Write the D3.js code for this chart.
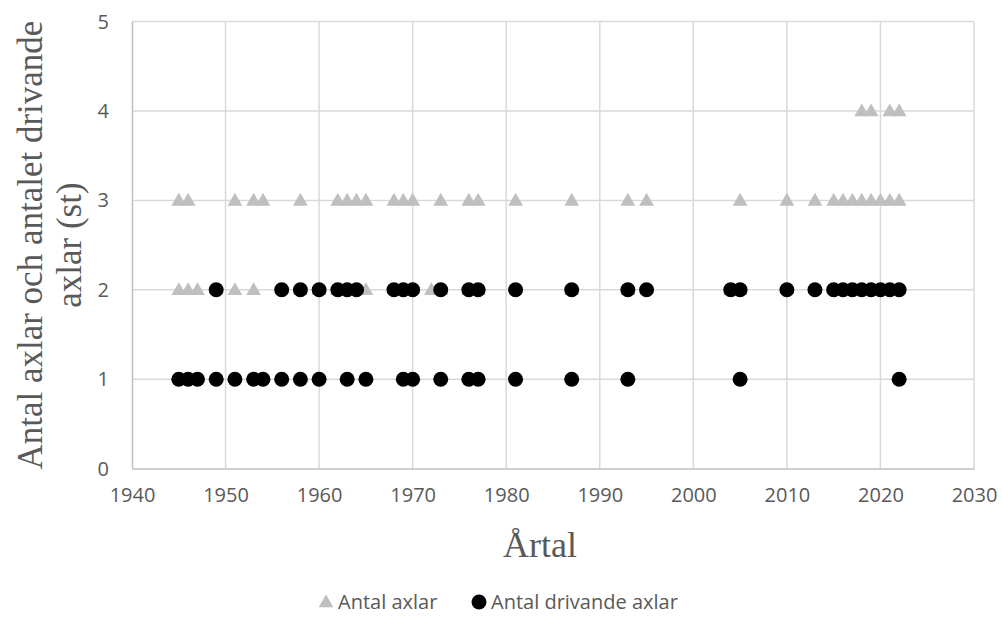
<!DOCTYPE html>
<html><head><meta charset="utf-8">
<script src="https://cdn.jsdelivr.net/npm/d3@7"></script>
<style>html,body{margin:0;padding:0;background:#fff;}svg{display:block;}</style>
</head><body>
<svg id="chart" width="1002" height="630"></svg>
<script>
// Antal axlar (triangles): years and values
const axlarYears = [1945,1946,1951,1953,1954,1958,1962,1963,1964,1965,1968,1969,1970,1973,1976,1977,1981,1987,1993,1995,2005,2010,2013,2015,2016,2017,2018,2019,2020,2021,2022,
  1945,1946,1947,1951,1953,1958,1960,1962,1963,1964,1965,1972,1973,1976,1977,1987,1993,2004,2005,
  2018,2019,2021,2022];
const axlarValues = [3,3,3,3,3,3,3,3,3,3,3,3,3,3,3,3,3,3,3,3,3,3,3,3,3,3,3,3,3,3,3,
  2,2,2,2,2,2,2,2,2,2,2,2,2,2,2,2,2,2,2,
  4,4,4,4];
// Antal drivande axlar (circles)
const drivYears = [1949,1956,1958,1960,1962,1963,1964,1968,1969,1970,1973,1976,1977,1981,1987,1993,1995,2004,2005,2010,2013,2015,2016,2017,2018,2019,2020,2021,2022,
  1945,1946,1947,1949,1951,1953,1954,1956,1958,1960,1963,1965,1969,1970,1973,1976,1977,1981,1987,1993,2005,2022];
const drivValues = [2,2,2,2,2,2,2,2,2,2,2,2,2,2,2,2,2,2,2,2,2,2,2,2,2,2,2,2,2,
  1,1,1,1,1,1,1,1,1,1,1,1,1,1,1,1,1,1,1,1,1,1];
const xTicks = [1940,1950,1960,1970,1980,1990,2000,2010,2020,2030];
const yTicks = [0,1,2,3,4,5];
const seriesNames = ["Antal axlar","Antal drivande axlar"];
const xTitle = "Årtal";
const yTitleLines = ["Antal axlar och antalet drivande","axlar (st)"];

const svg = d3.select("#chart");
const L = 132, R = 974, T = 21.6, B = 468.6;
const x = d3.scaleLinear().domain([1940,2030]).range([L,R]);
const y = d3.scaleLinear().domain([0,5]).range([B,T]);
const tickFont = "'Open Sans', sans-serif";

// gridlines
svg.append("g").selectAll("line").data(yTicks.filter(d=>d>0)).join("line")
  .attr("x1",L).attr("x2",R).attr("y1",d=>y(d)).attr("y2",d=>y(d))
  .attr("stroke","#d9d9d9").attr("stroke-width",1.5);
svg.append("g").selectAll("line").data(xTicks.filter(d=>d>1940)).join("line")
  .attr("y1",T).attr("y2",B).attr("x1",d=>x(d)).attr("x2",d=>x(d))
  .attr("stroke","#d9d9d9").attr("stroke-width",1.5);

// axes
const xAxis = d3.axisBottom(x).tickValues(xTicks).tickSize(0).tickPadding(19).tickFormat(d3.format("d"));
const gx = svg.append("g").attr("transform",`translate(0,${B})`).call(xAxis);
gx.select(".domain").attr("stroke","#bfbfbf").attr("stroke-width",1.5);
gx.selectAll("text").attr("font-family",tickFont).attr("font-size",20).attr("fill","#595959");
const yAxis = d3.axisLeft(y).tickValues(yTicks).tickSize(0).tickPadding(23).tickFormat(d3.format("d"));
const gy = svg.append("g").attr("transform",`translate(${L},0)`).call(yAxis);
gy.select(".domain").attr("stroke","#bfbfbf").attr("stroke-width",1.5);
gy.selectAll("text").attr("font-family",tickFont).attr("font-size",20).attr("fill","#595959");

// markers
const tri = d3.symbol().type(d3.symbolTriangle).size(95);
svg.append("g").selectAll("path").data(axlarYears.map((yr,i)=>[yr,axlarValues[i]])).join("path")
  .attr("d",tri).attr("transform",d=>`translate(${x(d[0])},${y(d[1])+1})`).attr("fill","#bfbfbf");
svg.append("g").selectAll("circle").data(drivYears.map((yr,i)=>[yr,drivValues[i]])).join("circle")
  .attr("cx",d=>x(d[0])).attr("cy",d=>y(d[1])).attr("r",7.5).attr("fill","#000");

// titles
svg.append("text").attr("x",540).attr("y",557).attr("text-anchor","middle")
  .attr("font-family","'Liberation Serif', serif").attr("font-size",36).attr("fill","#595959").text(xTitle);
const yt = svg.append("text").attr("transform",`translate(0,${(T+B)/2}) rotate(-90)`)
  .attr("text-anchor","middle").attr("font-family","'Liberation Serif', serif").attr("font-size",35).attr("fill","#595959");
yt.append("tspan").attr("x",0).attr("y",42).text(yTitleLines[0]);
yt.append("tspan").attr("x",0).attr("y",81).text(yTitleLines[1]);

// legend
const lg = svg.append("g");
lg.append("path").attr("d",tri).attr("transform","translate(326,603)").attr("fill","#bfbfbf");
lg.append("text").attr("x",338).attr("y",609).attr("font-family",tickFont).attr("font-size",20).attr("fill","#595959").text(seriesNames[0]);
lg.append("circle").attr("cx",479).attr("cy",602).attr("r",7.5).attr("fill","#000");
lg.append("text").attr("x",491).attr("y",609).attr("font-family",tickFont).attr("font-size",20).attr("fill","#595959").text(seriesNames[1]);
</script>
</body></html>
